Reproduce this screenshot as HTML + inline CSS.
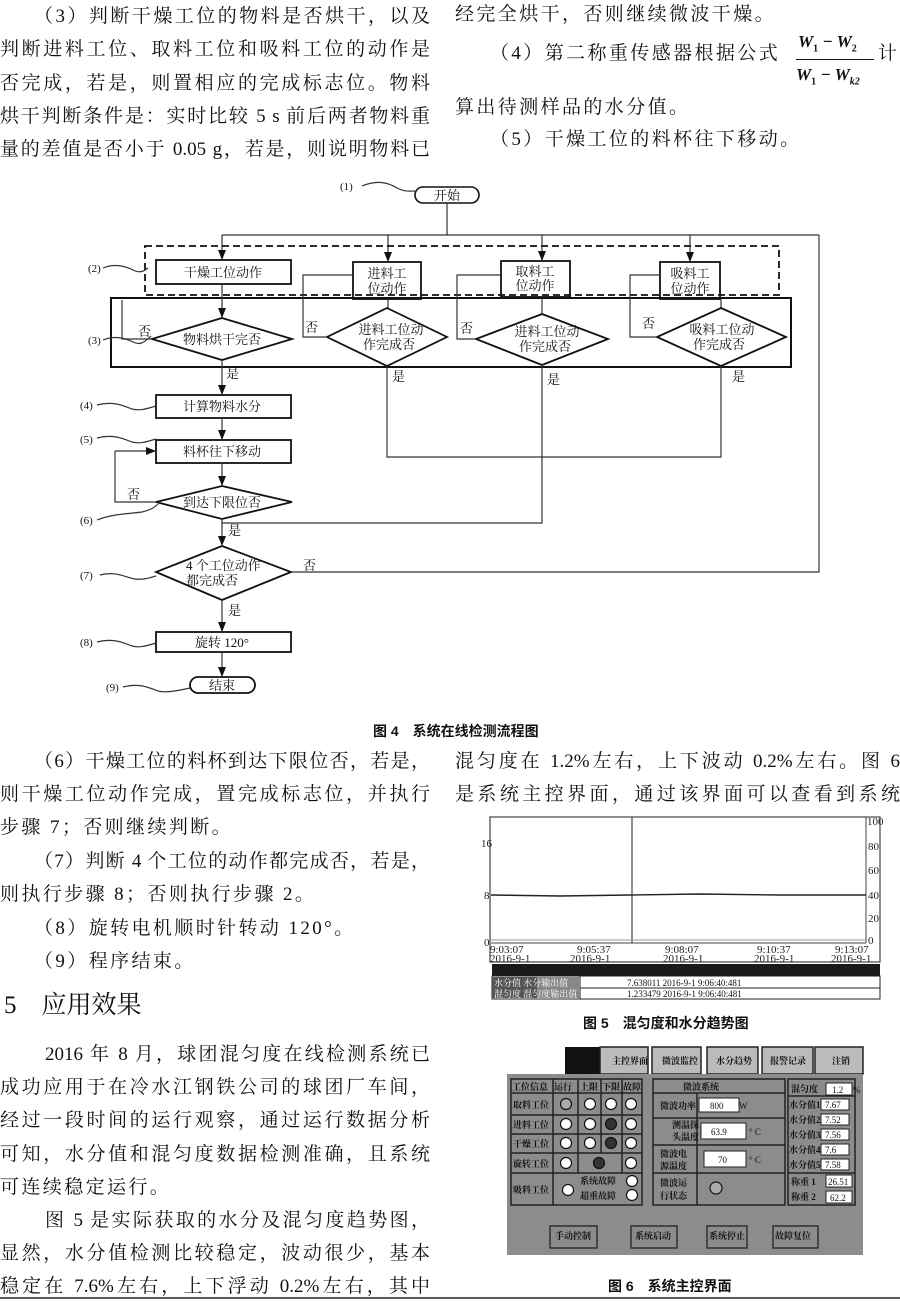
<!DOCTYPE html>
<html><head><meta charset="utf-8">
<style>
html,body{margin:0;padding:0;background:#fff}
body{width:900px;height:1302px;position:relative;overflow:hidden;font-family:"Liberation Serif","Noto Serif CJK SC","Noto Sans CJK SC",serif;color:#111}
.l{position:absolute;font-size:19px;line-height:24px;white-space:nowrap;height:24px}
.j{text-align:justify;text-align-last:justify}
.s{letter-spacing:2.4px}
.cap{position:absolute;font-family:"Liberation Sans","Noto Sans CJK SC",sans-serif;font-weight:bold;font-size:14px;white-space:nowrap}
svg{position:absolute;left:0;top:0}
svg text{font-family:"Liberation Serif","Noto Serif CJK SC","Noto Sans CJK SC",serif}
</style></head><body>

<div class="l j" style="left:34px;top:5px;width:396px">（3）判断干燥工位的物料是否烘干，以及</div>
<div class="l j" style="left:0;top:38px;width:430px">判断进料工位、取料工位和吸料工位的动作是</div>
<div class="l j" style="left:0;top:72px;width:430px">否完成，若是，则置相应的完成标志位。物料</div>
<div class="l j" style="left:0;top:105px;width:430px">烘干判断条件是：实时比较 5 s 前后两者物料重</div>
<div class="l j" style="left:0;top:138px;width:430px">量的差值是否小于 0.05 g，若是，则说明物料已</div>
<div class="l s" style="left:455px;top:3px">经完全烘干，否则继续微波干燥。</div>
<div class="l s" style="left:490px;top:42px">（4）第二称重传感器根据公式</div>
<div class="l" style="left:798px;top:30px;font-style:italic;font-weight:bold;font-size:17px">W<sub style="font-size:10px;font-style:normal">1</sub> − W<sub style="font-size:10px;font-style:normal">2</sub></div>
<div style="position:absolute;left:796px;top:59px;width:78px;border-top:1.5px solid #111"></div>
<div class="l" style="left:796px;top:63px;font-style:italic;font-weight:bold;font-size:17px">W<sub style="font-size:10px;font-style:normal">1</sub> − W<sub style="font-size:10px">k2</sub></div>
<div class="l" style="left:878px;top:42px">计</div>
<div class="l s" style="left:455px;top:96px">算出待测样品的水分值。</div>
<div class="l s" style="left:490px;top:128px">（5）干燥工位的料杯往下移动。</div>

<svg width="900" height="1302" viewBox="0 0 900 1302">
<defs><marker id="a" markerWidth="10" markerHeight="10" refX="9" refY="5" orient="auto" markerUnits="userSpaceOnUse"><path d="M0,1 L10,5 L0,9 z" fill="#111"/></marker></defs>
<g stroke="#333" stroke-width="1.2" fill="none">
<rect x="415" y="187" width="64" height="16" rx="8" stroke="#111" stroke-width="1.6"/>
<line x1="447" y1="203" x2="447" y2="235"/>
<line x1="222" y1="235" x2="819" y2="235"/>
<line x1="222" y1="235" x2="222" y2="259" marker-end="url(#a)"/>
<line x1="388" y1="235" x2="388" y2="261" marker-end="url(#a)"/>
<line x1="542" y1="235" x2="542" y2="260" marker-end="url(#a)"/>
<line x1="690" y1="235" x2="690" y2="261" marker-end="url(#a)"/>
<rect x="145" y="246" width="634" height="49" stroke="#111" stroke-width="1.8" stroke-dasharray="7,4"/>
<rect x="156" y="260" width="135" height="24" stroke="#111" stroke-width="1.8"/>
<rect x="353" y="262" width="68" height="37" stroke="#111" stroke-width="1.8"/>
<rect x="501" y="261" width="69" height="36" stroke="#111" stroke-width="1.8"/>
<rect x="660" y="262" width="60" height="37" stroke="#111" stroke-width="1.8"/>
<rect x="111" y="298" width="680" height="69" stroke="#111" stroke-width="2"/>
<line x1="222" y1="284" x2="222" y2="317" marker-end="url(#a)"/>
<line x1="388" y1="299" x2="388" y2="308"/>
<line x1="542" y1="297" x2="542" y2="314"/>
<line x1="721" y1="299" x2="721" y2="308"/>
<polygon points="222,318 292,339 222,360 152,339" stroke="#111" stroke-width="1.8" fill="#fff"/>
<polygon points="387,308 447,337 387,366 327,337" stroke="#111" stroke-width="1.8" fill="#fff"/>
<polygon points="542,314 608,339 542,365 476,339" stroke="#111" stroke-width="1.8" fill="#fff"/>
<polygon points="721,308 786,337 721,366 657,337" stroke="#111" stroke-width="1.8" fill="#fff"/>
<polyline points="152,339 122,339 122,300"/>
<polyline points="327,337 303,337 303,275 353,275"/>
<polyline points="476,339 457,339 457,275 501,275"/>
<polyline points="657,337 630,337 630,275 660,275"/>
<line x1="222" y1="360" x2="222" y2="394" marker-end="url(#a)"/>
<polyline points="387,366 387,457 721,457 721,366"/>
<polyline points="542,365 542,523 222,523"/>
<rect x="156" y="395" width="135" height="23" stroke="#111" stroke-width="1.8"/>
<line x1="222" y1="418" x2="222" y2="439" marker-end="url(#a)"/>
<rect x="156" y="440" width="135" height="23" stroke="#111" stroke-width="1.8"/>
<line x1="222" y1="463" x2="222" y2="485" marker-end="url(#a)"/>
<polygon points="222,486 292,502 222,519 156,502" stroke="#111" stroke-width="1.8" fill="#fff"/>
<polyline points="156,502 115,502 115,451" />
<line x1="115" y1="451" x2="155" y2="451" marker-end="url(#a)"/>
<line x1="222" y1="519" x2="222" y2="545" marker-end="url(#a)"/>
<polygon points="222,546 291,572 222,600 156,572" stroke="#111" stroke-width="1.8" fill="#fff"/>
<polyline points="291,572 819,572 819,235"/>
<line x1="222" y1="600" x2="222" y2="631" marker-end="url(#a)"/>
<rect x="156" y="632" width="135" height="20" stroke="#111" stroke-width="1.8"/>
<line x1="222" y1="652" x2="222" y2="676" marker-end="url(#a)"/>
<rect x="190" y="677" width="65" height="16" rx="8" stroke="#111" stroke-width="1.8"/>
<path d="M362,186 c15,-6 25,-4 35,2 c8,4 12,3 18,3"/>
<path d="M103,268 c12,-5 22,-2 30,2 c6,3 10,2 15,-2"/>
<path d="M103,340 c12,-5 22,-2 30,2 c6,3 10,2 18,-6"/>
<path d="M97,405 c15,-4 25,0 35,4 c8,2 14,0 24,-3"/>
<path d="M97,438 c15,-4 25,0 35,4 c8,2 14,0 24,-3"/>
<path d="M97,520 c15,-6 30,-6 45,-8 c8,-2 12,-4 16,-8"/>
<path d="M100,575 c15,-4 25,2 35,4 c8,1 14,-1 21,-3"/>
<path d="M97,642 c15,-4 25,0 35,4 c8,2 14,0 24,-3"/>
<path d="M123,687 c15,-4 25,0 35,4 c8,2 18,0 32,-3"/>
</g>
<g font-size="13" fill="#111">
<text x="447" y="200" text-anchor="middle">开始</text>
<text x="340" y="190" font-size="11">(1)</text>
<text x="88" y="272" font-size="11">(2)</text>
<text x="88" y="344" font-size="11">(3)</text>
<text x="80" y="409" font-size="11">(4)</text>
<text x="80" y="443" font-size="11">(5)</text>
<text x="80" y="524" font-size="11">(6)</text>
<text x="80" y="579" font-size="11">(7)</text>
<text x="80" y="646" font-size="11">(8)</text>
<text x="106" y="691" font-size="11">(9)</text>
<text x="223" y="277" text-anchor="middle">干燥工位动作</text>
<text x="387" y="278" text-anchor="middle">进料工</text><text x="387" y="293" text-anchor="middle">位动作</text>
<text x="535" y="276" text-anchor="middle">取料工</text><text x="535" y="290" text-anchor="middle">位动作</text>
<text x="690" y="278" text-anchor="middle">吸料工</text><text x="690" y="293" text-anchor="middle">位动作</text>
<text x="222" y="344" text-anchor="middle">物料烘干完否</text>
<text x="391" y="334" text-anchor="middle">进料工位动</text><text x="389" y="349" text-anchor="middle">作完成否</text>
<text x="547" y="336" text-anchor="middle">进料工位动</text><text x="545" y="351" text-anchor="middle">作完成否</text>
<text x="722" y="334" text-anchor="middle">吸料工位动</text><text x="719" y="349" text-anchor="middle">作完成否</text>
<text x="138" y="336">否</text><text x="305" y="332">否</text><text x="460" y="333">否</text><text x="642" y="328">否</text>
<text x="226" y="378">是</text><text x="392" y="381">是</text><text x="547" y="384">是</text><text x="732" y="381">是</text>
<text x="222" y="411" text-anchor="middle">计算物料水分</text>
<text x="222" y="456" text-anchor="middle">料杯往下移动</text>
<text x="222" y="507" text-anchor="middle">到达下限位否</text>
<text x="127" y="499">否</text>
<text x="228" y="535">是</text>
<text x="186" y="570">4 个工位动作</text>
<text x="186" y="585">都完成否</text>
<text x="303" y="570">否</text>
<text x="228" y="615">是</text>
<text x="222" y="647" text-anchor="middle">旋转 120°</text>
<text x="222" y="690" text-anchor="middle">结束</text>
</g>

<g stroke="#444" fill="none">
<rect x="490" y="817" width="390" height="145" stroke-width="1.2"/>
<line x1="491" y1="943" x2="866" y2="943" stroke-width="1"/>
<line x1="866" y1="817" x2="866" y2="943" stroke-width="1"/>
<line x1="632" y1="817" x2="632" y2="943" stroke-width="1.2"/>
<path d="M491,895 L560,896 L630,895 L700,894 L780,895 L866,895" stroke-width="1.4" stroke="#222"/>
<line x1="491" y1="940" x2="866" y2="940" stroke="#999"/>
</g>
<g font-size="11" fill="#222">
<text x="481" y="847">16</text><text x="484" y="899">8</text><text x="484" y="946">0</text>
<text x="867" y="825">100</text><text x="868" y="850">80</text><text x="868" y="874">60</text><text x="868" y="899">40</text><text x="868" y="922">20</text><text x="868" y="944">0</text>
<text x="490" y="953">9:03:07</text><text x="490" y="962">2016-9-1</text>
<text x="577" y="953">9:05:37</text><text x="570" y="962">2016-9-1</text>
<text x="665" y="953">9:08:07</text><text x="663" y="962">2016-9-1</text>
<text x="757" y="953">9:10:37</text><text x="754" y="962">2016-9-1</text>
<text x="835" y="953">9:13:07</text><text x="831" y="962">2016-9-1</text>
</g>
<rect x="492" y="964" width="388" height="12" fill="#1a1a1a"/>
<rect x="492" y="976" width="388" height="23" fill="#fff" stroke="#222"/>
<line x1="492" y1="988" x2="880" y2="988" stroke="#222"/>
<line x1="580" y1="976" x2="580" y2="999" stroke="#222"/>
<rect x="492" y="977" width="45" height="21" fill="#555"/>
<rect x="537" y="977" width="43" height="21" fill="#888"/>
<g font-size="9" fill="#fff"><text x="494" y="986">水分值 水分输出值</text><text x="494" y="997">混匀度 混匀度输出值</text></g>
<g font-size="9" fill="#111"><text x="627" y="986">7.638011 2016-9-1 9:06:40:481</text><text x="627" y="997">1.233479  2016-9-1 9:06:40:481</text></g>

<rect x="565" y="1047" width="35" height="27" fill="#111"/>
<g fill="#bbb" stroke="#222" stroke-width="1.5">
<rect x="600" y="1047" width="48" height="27"/><rect x="652" y="1047" width="49" height="27"/><rect x="707" y="1047" width="51" height="27"/><rect x="762" y="1047" width="51" height="27"/><rect x="815" y="1047" width="48" height="27"/>
</g>
<rect x="507" y="1074" width="356" height="181" fill="#8c8c8c"/>
<g fill="none" stroke="#222" stroke-width="1.5">
<rect x="511" y="1079" width="131" height="126"/>
<line x1="511" y1="1093" x2="642" y2="1093"/><line x1="511" y1="1115" x2="642" y2="1115"/><line x1="511" y1="1134" x2="642" y2="1134"/><line x1="511" y1="1153" x2="642" y2="1153"/><line x1="511" y1="1173" x2="642" y2="1173"/>
<line x1="553" y1="1079" x2="553" y2="1205"/>
<line x1="578" y1="1079" x2="578" y2="1173"/><line x1="601" y1="1079" x2="601" y2="1153"/><line x1="622" y1="1079" x2="622" y2="1173"/>
<rect x="653" y="1079" width="132" height="126"/>
<line x1="653" y1="1093" x2="785" y2="1093"/><line x1="653" y1="1118" x2="785" y2="1118"/><line x1="653" y1="1145" x2="785" y2="1145"/><line x1="653" y1="1173" x2="785" y2="1173"/><line x1="697" y1="1093" x2="697" y2="1205"/>
<rect x="788" y="1079" width="67" height="126"/>
<line x1="788" y1="1096" x2="855" y2="1096"/><line x1="788" y1="1173" x2="855" y2="1173"/>
</g>
<g fill="#fff" stroke="#222">
<rect x="699" y="1098" width="40" height="14"/><rect x="701" y="1123" width="45" height="16"/><rect x="704" y="1151" width="42" height="16"/>
<rect x="826" y="1083" width="26" height="12"/><rect x="821" y="1099" width="28" height="11"/><rect x="821" y="1114" width="28" height="11"/><rect x="821" y="1129" width="28" height="11"/><rect x="821" y="1144" width="28" height="11"/><rect x="821" y="1159" width="28" height="11"/><rect x="826" y="1175" width="26" height="12"/><rect x="826" y="1191" width="26" height="12"/>
</g>
<g stroke="#111" stroke-width="1.2" fill="#fff">
<circle cx="566" cy="1104" r="5.5" fill="#aaa"/><circle cx="590" cy="1104" r="5.5"/><circle cx="611" cy="1104" r="5.5"/><circle cx="631" cy="1104" r="5.5"/>
<circle cx="566" cy="1124" r="5.5"/><circle cx="590" cy="1124" r="5.5"/><circle cx="611" cy="1124" r="5.5" fill="#333"/><circle cx="631" cy="1124" r="5.5"/>
<circle cx="566" cy="1143" r="5.5"/><circle cx="590" cy="1143" r="5.5"/><circle cx="611" cy="1143" r="5.5" fill="#333"/><circle cx="631" cy="1143" r="5.5"/>
<circle cx="566" cy="1163" r="5.5"/><circle cx="599" cy="1163" r="5.5" fill="#333"/><circle cx="631" cy="1163" r="5.5"/>
<circle cx="568" cy="1190" r="5.5"/><circle cx="632" cy="1181" r="5.5"/><circle cx="632" cy="1195" r="5.5"/>
<circle cx="716" cy="1188" r="6" fill="#aaa"/>
</g>
<g font-size="9" fill="#111" font-weight="bold">
<text x="612" y="1064">主控界面</text><text x="662" y="1064">微波监控</text><text x="716" y="1064">水分趋势</text><text x="770" y="1064">报警记录</text><text x="832" y="1064">注销</text>
<text x="512" y="1090">工位信息</text><text x="554" y="1090">运行</text><text x="580" y="1090">上限</text><text x="602" y="1090">下限</text><text x="623" y="1090">故障</text>
<text x="513" y="1108">取料工位</text><text x="513" y="1128">进料工位</text><text x="513" y="1147">干燥工位</text><text x="513" y="1167">旋转工位</text><text x="513" y="1193">吸料工位</text>
<text x="580" y="1184">系统故障</text><text x="580" y="1199">超重故障</text>
<text x="683" y="1090">微波系统</text>
<text x="660" y="1109">微波功率</text><text x="672" y="1128">测温探</text><text x="672" y="1140">头温度</text><text x="660" y="1157">微波电</text><text x="660" y="1169">源温度</text><text x="660" y="1186">微波运</text><text x="660" y="1199">行状态</text>
<text x="791" y="1092">混匀度</text><text x="789" y="1108">水分值1</text><text x="789" y="1123">水分值2</text><text x="789" y="1138">水分值3</text><text x="789" y="1153">水分值4</text><text x="789" y="1168">水分值5</text><text x="791" y="1185">称重 1</text><text x="791" y="1200">称重 2</text>
<text x="555" y="1239">手动控制</text><text x="635" y="1239">系统启动</text><text x="709" y="1239">系统停止</text><text x="775" y="1239">故障复位</text>
</g>
<g font-size="9" fill="#111">
<text x="710" y="1109">800</text><text x="739" y="1109">W</text><text x="711" y="1135">63.9</text><text x="749" y="1135">° C</text><text x="718" y="1163">70</text><text x="749" y="1163">° C</text>
<text x="832" y="1093">1.2</text><text x="853" y="1093">%</text>
<text x="825" y="1108">7.67</text><text x="825" y="1123">7.52</text><text x="825" y="1138">7.56</text><text x="825" y="1153">7.6</text><text x="825" y="1168">7.58</text>
<text x="828" y="1185">26.51</text><text x="830" y="1201">62.2</text>
</g>
<g fill="none" stroke="#222" stroke-width="1.3">
<rect x="550" y="1226" width="47" height="22"/><rect x="631" y="1226" width="46" height="22"/><rect x="707" y="1226" width="40" height="22"/><rect x="773" y="1226" width="45" height="22"/>
</g>
<line x1="0" y1="1298" x2="900" y2="1298" stroke="#222" stroke-width="1.5"/>
</svg>

<div class="cap" style="left:373px;top:721px">图 4　系统在线检测流程图</div>

<div class="l j" style="left:34px;top:750px;width:396px">（6）干燥工位的料杯到达下限位否，若是，</div>
<div class="l j" style="left:0;top:783px;width:430px">则干燥工位动作完成，置完成标志位，并执行</div>
<div class="l s" style="left:0;top:816px">步骤 7；否则继续判断。</div>
<div class="l j" style="left:34px;top:850px;width:396px">（7）判断 4 个工位的动作都完成否，若是，</div>
<div class="l s" style="left:0;top:883px">则执行步骤 8；否则执行步骤 2。</div>
<div class="l s" style="left:34px;top:917px">（8）旋转电机顺时针转动 120°。</div>
<div class="l s" style="left:34px;top:950px">（9）程序结束。</div>
<div class="l" style="left:4px;top:991px;font-size:25px;height:30px;line-height:30px">5　应用效果</div>
<div class="l j" style="left:45px;top:1043px;width:385px">2016 年 8 月，球团混匀度在线检测系统已</div>
<div class="l j" style="left:0;top:1076px;width:430px">成功应用于在冷水江钢铁公司的球团厂车间，</div>
<div class="l j" style="left:0;top:1109px;width:430px">经过一段时间的运行观察，通过运行数据分析</div>
<div class="l j" style="left:0;top:1143px;width:430px">可知，水分值和混匀度数据检测准确，且系统</div>
<div class="l s" style="left:0;top:1176px">可连续稳定运行。</div>
<div class="l j" style="left:45px;top:1209px;width:385px">图 5 是实际获取的水分及混匀度趋势图，</div>
<div class="l j" style="left:0;top:1242px;width:430px">显然，水分值检测比较稳定，波动很少，基本</div>
<div class="l j" style="left:0;top:1275px;width:430px">稳定在 7.6%左右，上下浮动 0.2%左右，其中</div>
<div class="l j" style="left:455px;top:750px;width:445px">混匀度在 1.2%左右，上下波动 0.2%左右。图 6</div>
<div class="l j" style="left:455px;top:783px;width:445px">是系统主控界面，通过该界面可以查看到系统</div>
<div class="cap" style="left:583px;top:1013px">图 5　混匀度和水分趋势图</div>
<div class="cap" style="left:608px;top:1276px">图 6　系统主控界面</div>
</body></html>
